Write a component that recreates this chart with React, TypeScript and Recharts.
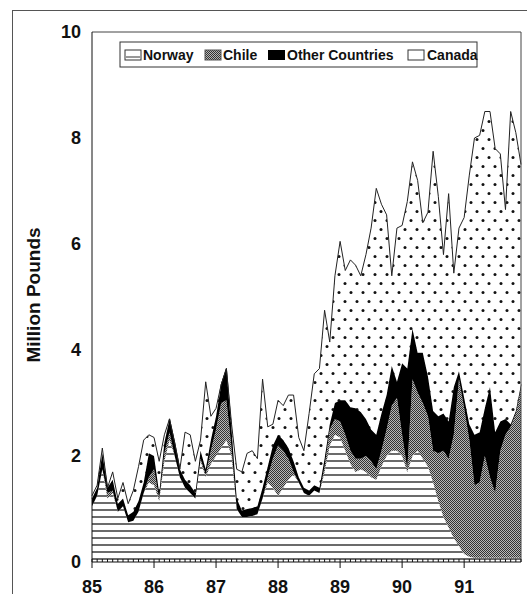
import React from "react";
import { AreaChart, Area, XAxis, YAxis, ReferenceLine } from "recharts";

// monthly shipments, Jan 1985 .. Dec 1991 (million pounds)
const yearLabels = ["85", "86", "87", "88", "89", "90", "91"];

const norway = [
  1.05, 1.25, 1.75, 1.2, 1.3, 0.95, 1.05, 0.75, 0.78, 0.95, 1.3, 1.5,
  1.45, 1.15, 1.9, 2.3, 2.0, 1.6, 1.4, 1.3, 1.2, 1.9, 1.6, 1.85,
  2.0, 2.15, 2.3, 2.0, 1.0, 0.85, 0.85, 0.87, 0.9, 1.2, 1.5, 1.4,
  1.25, 1.4, 1.55, 1.65, 1.5, 1.3, 1.25, 1.35, 1.3, 1.7, 2.2, 2.4,
  2.35, 2.1, 1.85, 1.7, 1.75, 1.7, 1.6, 1.55, 1.8, 2.0, 2.1, 2.1,
  2.0, 1.7, 2.0, 2.1, 1.95, 1.8, 1.5, 1.15, 0.85, 0.65, 0.45, 0.3,
  0.15, 0.1, 0.08, 0.08, 0.08, 0.08, 0.08, 0.08, 0.08, 0.08, 0.08, 0.08,
];

const chile = [
  0, 0, 0, 0.1, 0.05, 0, 0, 0, 0, 0, 0, 0.1,
  0.3, 0.05, 0.15, 0.15, 0, 0, 0, 0, 0, 0.05, 0.05, 0.25,
  0.5, 0.85, 0.75, 0.15, 0, 0, 0, 0, 0, 0, 0.1, 0.55,
  0.95, 0.7, 0.4, 0.05, 0, 0, 0, 0, 0, 0.1, 0.3, 0.3,
  0.3, 0.3, 0.25, 0.25, 0.2, 0.3, 0.3, 0.2, 0.3, 0.5, 0.85, 1.0,
  0.4, 0.05, 1.45, 1.1, 1.05, 0.95, 0.6, 0.9, 1.25, 1.3, 1.95, 3.15,
  2.75, 2.2, 1.37, 1.42, 1.92, 1.52, 1.22, 2.02, 2.32, 2.47, 2.72, 3.22,
];

const other = [
  0.15, 0.15, 0.3, 0.1, 0.2, 0.15, 0.15, 0.13, 0.17, 0.2, 0.2, 0.45,
  0.25, 0.1, 0.2, 0.25, 0.25, 0.15, 0.15, 0.15, 0.1, 0.15, 0.1, 0.2,
  0.25, 0.35, 0.6, 0.35, 0.2, 0.12, 0.15, 0.15, 0.15, 0.2, 0.2, 0.25,
  0.2, 0.2, 0.2, 0.2, 0.1, 0.1, 0.1, 0.1, 0.1, 0.15, 0.1, 0.3,
  0.4, 0.65, 0.82, 0.95, 0.88, 0.7, 0.6, 0.65, 0.7, 0.65, 0.75, 0.3,
  1.35, 1.9, 0.95, 0.75, 0.95, 0.75, 0.75, 0.7, 0.7, 0.7, 0.9, 0.15,
  0.2, 0.3, 0.95, 0.95, 0.9, 1.7, 1.15, 0.55, 0.3, 0.05, 0.05, 0.05,
];

const canada = [
  0.05, 0.05, 0.1, 0, 0.15, 0.1, 0.3, 0.22, 0.4, 0.65, 0.8, 0.35,
  0.35, 0.6, 0.15, 0, 0, 0, 0.9, 0.95, 0.6, 0.2, 1.65, 0.45,
  0.15, 0, 0, 0.1, 0.55, 0.73, 1.05, 1.08, 0.9, 2.05, 0.75, 0.4,
  0.65, 0.65, 1.0, 1.25, 0.75, 0.7, 1.45, 2.1, 2.25, 2.8, 1.55, 2.4,
  3.0, 2.45, 2.78, 2.7, 2.57, 3.1, 3.8, 4.65, 3.95, 3.4, 1.7, 2.9,
  2.6, 3.15, 3.15, 3.25, 2.45, 3.1, 4.9, 4.15, 3.0, 4.3, 2.15, 2.7,
  3.4, 4.7, 5.6, 5.6, 5.6, 5.2, 5.35, 5.05, 3.95, 5.9, 5.25, 4.15,
];

const data = norway.map((v, i) => ({
  m: i,
  norway: v,
  chile: chile[i],
  other: other[i],
  canada: canada[i],
}));
const monthTicks = data.map((d) => d.m);

const font = "'Liberation Sans', Arial, Helvetica, sans-serif";
const ink = "#111";

function MonthTick(props: any) {
  const { x, y, payload } = props;
  const v = payload.value;
  if (v % 12 === 0) {
    return (
      <g>
        <line x1={x} x2={x} y1={y - 3} y2={y + 6} stroke={ink} />
        <text
          x={x}
          y={y + 31}
          textAnchor="middle"
          fontSize={18}
          fontWeight={700}
          fontFamily={font}
          fill={ink}
        >
          {yearLabels[v / 12]}
        </text>
      </g>
    );
  }
  return <line x1={x} x2={x} y1={y} y2={y - 3} stroke={ink} />;
}

function Patterns({ prefix }: { prefix: string }) {
  return (
    <defs>
      <pattern id={prefix + "norway"} width={8} height={7} patternUnits="userSpaceOnUse">
        <rect width={8} height={7} fill="#fff" />
        <line x1={0} x2={8} y1={6} y2={6} stroke="#1a1a1a" strokeWidth={1.3} />
      </pattern>
      <pattern id={prefix + "chile"} width={2} height={2} patternUnits="userSpaceOnUse">
        <rect width={2} height={2} fill="#b8b8b8" />
        <rect width={1} height={1} fill="#333" />
        <rect x={1} y={1} width={1} height={1} fill="#333" />
      </pattern>
      <pattern id={prefix + "canada"} width={12} height={18} patternUnits="userSpaceOnUse">
        <rect width={12} height={18} fill="#fff" />
        <circle cx={3} cy={4.5} r={1.5} fill="#111" />
        <circle cx={9} cy={13.5} r={1.5} fill="#111" />
      </pattern>
    </defs>
  );
}

function LegendBox() {
  return (
    <svg
      width={360}
      height={28}
      style={{ position: "absolute", left: 119, top: 41 }}
      fontFamily={font}
    >
      <Patterns prefix="lg-" />
      <rect x={1} y={1} width={357} height={25} fill="#fff" stroke="#333" />
      <rect x={6} y={9} width={16} height={10} fill="#fff" stroke="#333" />
      <line x1={7} x2={21} y1={16} y2={16} stroke="#333" />
      <text x={24} y={19} fontSize={14} fontWeight={700} fill={ink}>Norway</text>
      <rect x={86} y={9} width={16} height={10} fill="url(#lg-chile)" stroke="#555" />
      <text x={104} y={19} fontSize={14} fontWeight={700} fill={ink}>Chile</text>
      <rect x={149} y={9} width={17} height={10} fill="#000" />
      <text x={168} y={19} fontSize={14} fontWeight={700} fill={ink}>Other Countries</text>
      <rect x={289} y={9} width={16} height={10} fill="#fff" stroke="#333" />
      <text x={308} y={19} fontSize={14} fontWeight={700} fill={ink}>Canada</text>
    </svg>
  );
}

export default function App() {
  return (
    <div
      style={{
        position: "absolute",
        left: 0,
        top: 0,
        width: 527,
        height: 606,
        background: "#fff",
        overflow: "hidden",
        fontFamily: font,
      }}
    >
      <div style={{ position: "absolute", left: 0, top: 0 }}>
        <AreaChart
          width={527}
          height={606}
          data={data}
          margin={{ top: 32, right: 6, bottom: 0, left: 0 }}
        >
          <Patterns prefix="" />
          <XAxis
            dataKey="m"
            type="number"
            domain={[0, 83]}
            ticks={monthTicks}
            interval={0}
            height={44}
            tickLine={false}
            tickSize={0}
            tickMargin={0}
            axisLine={{ stroke: ink }}
            tick={(p: any) => <MonthTick {...p} />}
          />
          <YAxis
            type="number"
            domain={[0, 10]}
            ticks={[0, 2, 4, 6, 8, 10]}
            width={92}
            tickLine={false}
            tickSize={0}
            tickMargin={11}
            axisLine={{ stroke: ink }}
            tick={{ fontSize: 18, fontWeight: 700, fill: ink, fontFamily: font }}
          />
          <Area
            type="linear"
            dataKey="norway"
            stackId="1"
            fill="url(#norway)"
            fillOpacity={1}
            stroke="none"
            isAnimationActive={false}
            dot={false}
            activeDot={false}
          />
          <Area
            type="linear"
            dataKey="chile"
            stackId="1"
            fill="url(#chile)"
            fillOpacity={1}
            stroke="none"
            isAnimationActive={false}
            dot={false}
            activeDot={false}
          />
          <Area
            type="linear"
            dataKey="other"
            stackId="1"
            fill="#000"
            fillOpacity={1}
            stroke="#000"
            strokeWidth={1}
            isAnimationActive={false}
            dot={false}
            activeDot={false}
          />
          <Area
            type="linear"
            dataKey="canada"
            stackId="1"
            fill="url(#canada)"
            fillOpacity={1}
            stroke="#222"
            strokeWidth={1}
            isAnimationActive={false}
            dot={false}
            activeDot={false}
          />
          <ReferenceLine y={10} stroke="#444" />
          <ReferenceLine x={83} stroke="#444" />
        </AreaChart>
      </div>
      <div
        style={{
          position: "absolute",
          left: 12,
          top: 10,
          width: 530,
          height: 583,
          borderLeft: "1px solid #555",
          borderTop: "1px solid #555",
          pointerEvents: "none",
        }}
      />
      <LegendBox />
      <svg
        width={40}
        height={200}
        style={{ position: "absolute", left: 13, top: 195 }}
      >
        <text
          x={20}
          y={100}
          transform="rotate(-90 20 100)"
          textAnchor="middle"
          dominantBaseline="central"
          fontSize={19}
          fontWeight={700}
          fontFamily={font}
          fill={ink}
        >
          Million Pounds
        </text>
      </svg>
    </div>
  );
}
